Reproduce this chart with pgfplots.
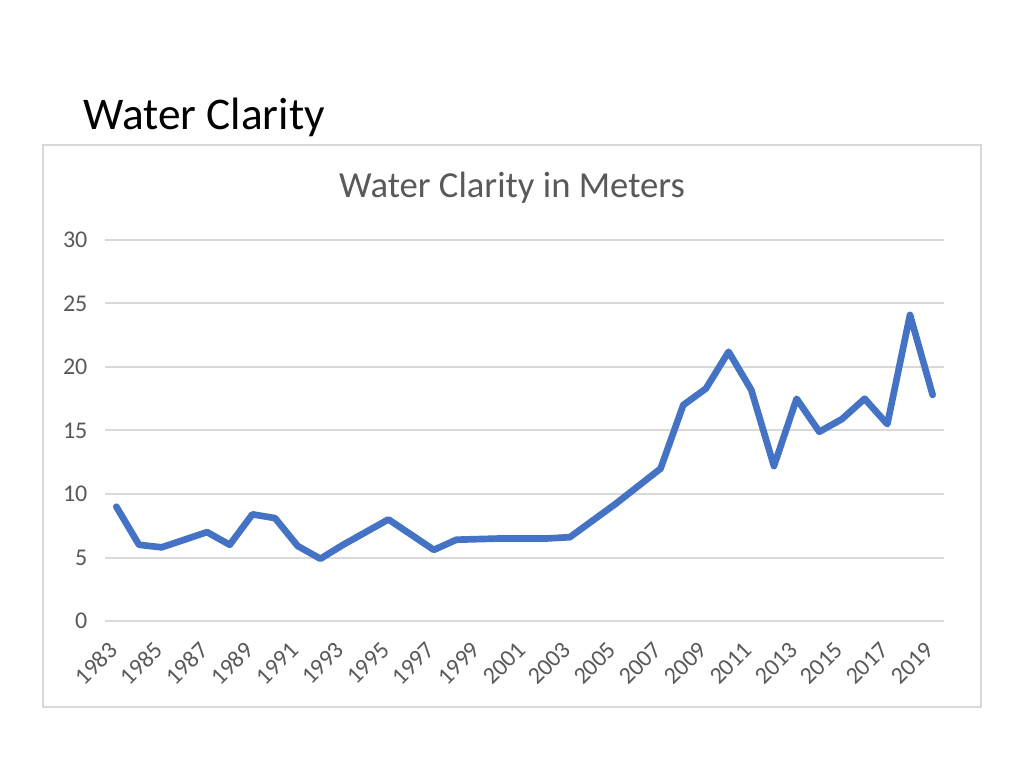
\documentclass[border=0pt]{standalone}
\usepackage{fontspec}
\setmainfont{Carlito}
\usepackage{pgfplots}
\pgfplotsset{compat=1.18}
\definecolor{serie}{HTML}{4472C4}
\definecolor{gridc}{HTML}{D9D9D9}
\definecolor{txt}{HTML}{595959}
\begin{document}
\begin{tikzpicture}
\fill[white] (0pt,0pt) rectangle (768pt,576pt);
\node[anchor=base west, inner sep=0pt, font=\fontsize{34}{40}\selectfont] at (62.25pt,478.5pt) {Water Clarity};
\draw[gridc, line width=1.2pt] (32.25pt,467.25pt) rectangle (735.75pt,45.75pt);
\node[anchor=base, inner sep=0pt, text=txt, font=\fontsize{27.5}{32}\selectfont] at (384pt,427.5pt) {Water Clarity in Meters};
\begin{axis}[
  at={(78.75pt,110.25pt)}, anchor=south west,
  scale only axis, width=629.25pt, height=285.75pt,
  xmin=1982.5, xmax=2019.5, ymin=0, ymax=30,
  xtick={1983,1985,...,2019}, ytick={0,5,...,30},
  axis line style={draw=none}, major tick length=0pt,
  ymajorgrids, grid style={gridc, line width=1.5pt},
  /pgf/number format/assume math mode=true,
  /pgf/number format/1000 sep={},
  x tick label style={yshift=-18pt, xshift=-1.5pt, rotate=45, anchor=east, text=txt, font=\fontsize{18}{20}\selectfont, inner sep=1pt},
  y tick label style={text=txt, font=\fontsize{18}{20}\selectfont, xshift=-12pt, inner sep=1pt},
  clip=false,
]
\addplot[serie, line width=5pt, line join=round, line cap=round] coordinates {
(1983,9.0) (1984,6.0) (1985,5.8) (1986,6.4) (1987,7.0) (1988,6.0) (1989,8.4) (1990,8.1)
(1991,5.9) (1992,4.9) (1993,6.0) (1994,7.0) (1995,8.0) (1996,6.8) (1997,5.6) (1998,6.4)
(1999,6.45) (2000,6.5) (2001,6.5) (2002,6.5) (2003,6.6) (2004,7.9) (2005,9.2) (2006,10.6)
(2007,12.0) (2008,17.0) (2009,18.3) (2010,21.2) (2011,18.2) (2012,12.2) (2013,17.5) (2014,14.9)
(2015,15.9) (2016,17.5) (2017,15.5) (2018,24.1) (2019,17.8)
};
\end{axis}
\end{tikzpicture}
\end{document}
